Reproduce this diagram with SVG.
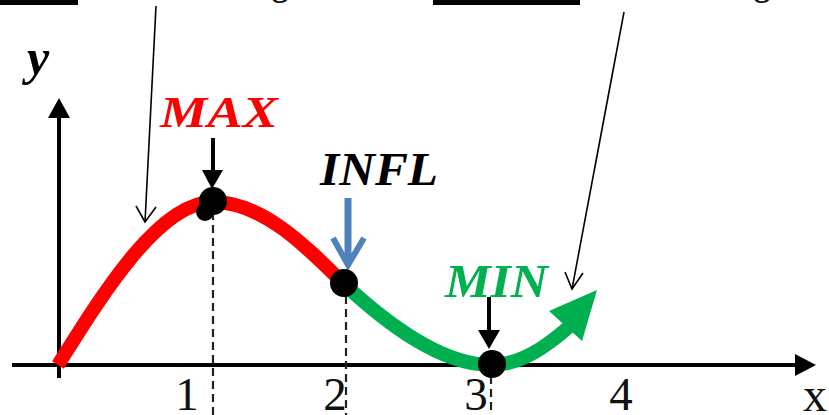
<svg xmlns="http://www.w3.org/2000/svg" width="829" height="415" viewBox="0 0 829 415">
<style>
.lbl{font-family:"Liberation Serif","Times New Roman",serif;font-weight:bold;font-style:italic}
.num{font-family:"Liberation Serif","Times New Roman",serif;fill:#111}
.ax{stroke:#000;stroke-width:4;fill:none}
.dash{stroke:#222;stroke-width:2.2;stroke-dasharray:8 5;fill:none}
.ptr{stroke:#000;stroke-width:1.6;fill:none}
</style>
<rect width="829" height="415" fill="#fff"/>
<g id="header">
<rect x="0" y="0" width="78" height="5" fill="#000"/>
<rect x="433" y="0" width="147" height="5" fill="#000"/>
<text class="num" x="272" y="-4" font-size="32" font-weight="bold">g</text>
<text class="num" x="754" y="-4" font-size="32" font-weight="bold">g</text>
</g>
<g id="axes">
<line class="ax" x1="59" y1="115" x2="59" y2="378"/>
<polygon points="59,98 48,118 70,118" fill="#000"/>
<line class="ax" x1="12" y1="365" x2="798" y2="365"/>
<polygon points="816,365 795,354 795,376" fill="#000"/>
<text class="lbl" x="27" y="74" font-size="50">y</text>
<text class="num" x="815" y="411" font-size="48" text-anchor="middle">x</text>
</g>
<g id="ticks">
<line class="dash" x1="213" y1="212" x2="213" y2="415"/>
<line class="dash" x1="346" y1="296" x2="346" y2="415"/>
<line class="dash" x1="491" y1="376" x2="491" y2="415"/>
<text class="num" x="187" y="410" font-size="47" text-anchor="middle">1</text>
<text class="num" x="335" y="410" font-size="47" text-anchor="middle">2</text>
<text class="num" x="476" y="410" font-size="47" text-anchor="middle">3</text>
<text class="num" x="621" y="410" font-size="47" text-anchor="middle">4</text>
</g>
<g id="curve">
<path d="M58,365 C105,290 160,202 213,202 C262,202 305,245 344,284" stroke="#FF0000" stroke-width="14" fill="none"/>
<path d="M344,284 C385,322 440,365 491,365 C522,365 548,345 570,326" stroke="#00B050" stroke-width="14" fill="none"/>
<polygon points="597,290 549,311 582,341" fill="#00B050"/>
</g>
<g id="max">
<text class="lbl" x="160" y="127" font-size="45" fill="#FF0000" textLength="118" lengthAdjust="spacingAndGlyphs">MAX</text>
<line x1="213" y1="138" x2="213" y2="172" stroke="#000" stroke-width="4"/>
<polygon points="212,189 202,170 223,170" fill="#000"/>
<circle cx="213" cy="201" r="14" fill="#000"/>
<circle cx="205" cy="212" r="9" fill="#000"/>
</g>
<g id="infl">
<text class="lbl" x="320" y="185" font-size="46" fill="#000" textLength="118" lengthAdjust="spacingAndGlyphs">INFL</text>
<line x1="348" y1="198" x2="348" y2="264" stroke="#4F81BD" stroke-width="7"/>
<path d="M333,238 L348,265 L364,238" stroke="#4F81BD" stroke-width="6" fill="none"/>
<circle cx="344" cy="283" r="14" fill="#000"/>
</g>
<g id="min">
<text class="lbl" x="445" y="297" font-size="46" fill="#00B050" textLength="103" lengthAdjust="spacingAndGlyphs">MIN</text>
<line x1="489" y1="297" x2="489" y2="332" stroke="#000" stroke-width="4"/>
<polygon points="489,349 478,330 500,330" fill="#000"/>
<circle cx="492" cy="364" r="14" fill="#000"/>
</g>
<g id="connectors">
<path class="ptr" d="M156,6 L145,222"/>
<path class="ptr" d="M136,206 L145,222 L156,207"/>
<path class="ptr" d="M624,12 L572,289"/>
<path class="ptr" d="M565,272 L572,289 L583,273"/>
</g>
</svg>
